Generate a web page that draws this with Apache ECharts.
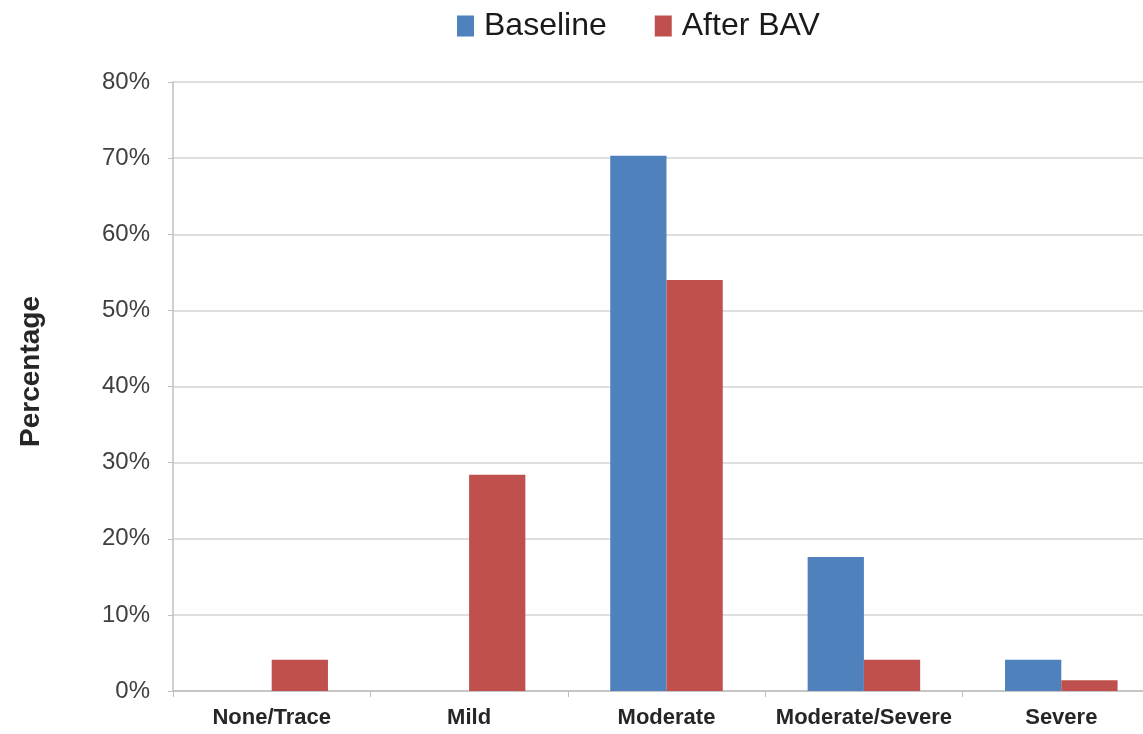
<!DOCTYPE html>
<html>
<head>
<meta charset="utf-8">
<script src="https://cdn.jsdelivr.net/npm/echarts@6/dist/echarts.min.js"></script>
<style>html,body{margin:0;padding:0;background:#fff;overflow:hidden}#c{width:1160px;height:734px}</style>
</head>
<body>
<div id="c"></div>
<script>
const categories = ["None/Trace", "Mild", "Moderate", "Moderate/Severe", "Severe"];
const baseline = [0, 0, 70.3, 17.6, 4.1];
const afterBAV = [4.1, 28.4, 54.0, 4.1, 1.4];
const seriesNames = ["Baseline", "After BAV"];
const yTicks = [0, 10, 20, 30, 40, 50, 60, 70, 80];
const yTitle = "Percentage";

const chart = echarts.init(document.getElementById('c'), null, {renderer: 'canvas'});
chart.setOption({
  animation: false,
  backgroundColor: '#fff',
  textStyle: {fontFamily: 'Liberation Sans, Arial, sans-serif'},
  legend: {
    top: 5, left: 452,
    icon: 'rect',
    itemWidth: 17, itemHeight: 21, itemGap: 48,
    textStyle: {fontSize: 32, color: '#1a1a1a', padding: [0, 0, 0, 5]},
    data: seriesNames
  },
  graphic: [{
    type: 'text', left: 17, top: 296, rotation: Math.PI / 2,
    style: {text: yTitle, fontSize: 28, fontWeight: 'bold', fill: '#262626',
            fontFamily: 'Liberation Sans, Arial, sans-serif'}
  }],
  grid: {left: 173, top: 82, right: 0, bottom: 43, containLabel: false},
  xAxis: {
    type: 'category', data: categories,
    axisLine: {lineStyle: {color: '#bfbfbf', width: 1.5}},
    axisTick: {show: true, length: 6, lineStyle: {color: '#bfbfbf'}},
    axisLabel: {interval: 0, fontSize: 22, fontWeight: 'bold', color: '#262626', margin: 16}
  },
  yAxis: {
    type: 'value', min: 0, max: 80, interval: 10,
    axisLine: {show: true, lineStyle: {color: '#bfbfbf', width: 1.5}},
    axisTick: {show: true, length: 5, lineStyle: {color: '#bfbfbf'}},
    splitLine: {lineStyle: {color: '#d4d4d4', width: 1.5}},
    axisLabel: {fontSize: 24, color: '#404040', margin: 23, formatter: v => yTicks.includes(v) ? v + '%' : ''}
  },
  series: [
    {name: seriesNames[0], type: 'bar', data: baseline, barGap: '0%', barCategoryGap: '43%',
     itemStyle: {color: '#4F81BD'}},
    {name: seriesNames[1], type: 'bar', data: afterBAV, barGap: '0%', barCategoryGap: '43%',
     itemStyle: {color: '#C0504D'}}
  ]
});
</script>
</body>
</html>
